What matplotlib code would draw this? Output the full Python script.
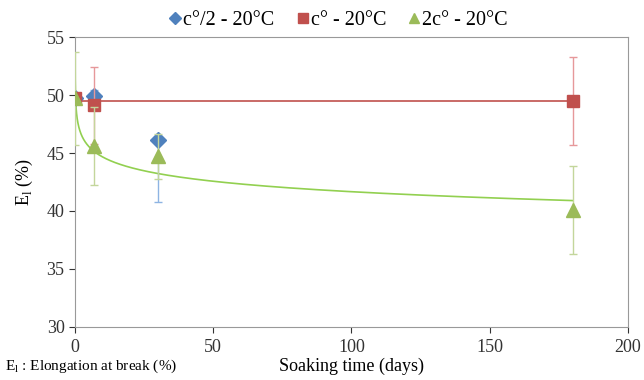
import numpy as np
import matplotlib
matplotlib.use("Agg")
import matplotlib.pyplot as plt

plt.rcParams['font.family'] = ['Liberation Serif', 'DejaVu Serif']

# donnees
days = [0, 7, 30, 180]
half_c = [49.7, 49.9, 46.1, np.nan]
half_err_low = [0.4, 0.5, 5.3, np.nan]
half_err_high = [0.4, 0.5, 0.0, np.nan]
full_c = [49.7, 49.1, np.nan, 49.5]
full_err = [0.4, 3.3, np.nan, 3.8]
double_c = [49.7, 45.6, 44.7, 40.1]
double_err = [4.0, 3.4, 1.9, 3.8]

# courbes de tendance (Excel)
red_trend = 49.5
green_a, green_b = 47.65, -1.3

blue = '#4F81BD'
red = '#C0504D'
green = '#9BBB59'

fig = plt.figure(figsize=(6.44, 3.80), dpi=100)
ax = fig.add_axes([0.1165, 0.1395, 0.8585, 0.7631])

# tendances
ax.plot([0, 180], [red_trend, red_trend], color=red, lw=1.2, zorder=2)
xt = np.linspace(0.003, 180, 6000)
ax.plot(xt, green_a + green_b * np.log(xt), color='#92D050', lw=1.2, zorder=2)

ax.errorbar(days, half_c, yerr=[half_err_low, half_err_high], fmt='D', color=blue,
            ecolor='#8EB4E3', ms=8, capsize=3, elinewidth=1, label='c°/2 - 20°C', zorder=3)
ax.errorbar(days, full_c, yerr=full_err, fmt='s', color=red, ecolor='#E6989A',
            ms=9, capsize=3, elinewidth=1, label='c° - 20°C', zorder=4)
ax.errorbar(days, double_c, yerr=double_err, fmt='^', color=green, ecolor='#C3D69B',
            ms=10, capsize=3, elinewidth=1, label='2c° - 20°C', zorder=5)

ax.set_xlim(0, 200)
ax.set_ylim(30, 55)
ax.set_xticks([0, 50, 100, 150, 200])
ax.set_yticks([30, 35, 40, 45, 50, 55])
ax.tick_params(labelsize=13, colors='#333333', length=4, direction='out')
ax.tick_params(axis='x', pad=5)
for s in ax.spines.values():
    s.set_color('#999999')

ax.set_xlabel('Soaking time (days)', fontsize=13, labelpad=1)
ax.set_ylabel('E$_\\mathregular{l}$ (%)', fontsize=13, labelpad=8)

h, l = ax.get_legend_handles_labels()
hh = [x[0] for x in h]
fig.legend(hh, l, loc='center', bbox_to_anchor=(0.524, 0.945), ncol=3, frameon=False,
           fontsize=14.5, handletextpad=0.0, columnspacing=1.0, handlelength=0.8,
           markerscale=0.75)

fig.text(0.008, 0.012, 'E$_\\mathregular{l}$ : Elongation at break (%)', fontsize=11,
         va='bottom')

fig.savefig('out.png', dpi=100)
